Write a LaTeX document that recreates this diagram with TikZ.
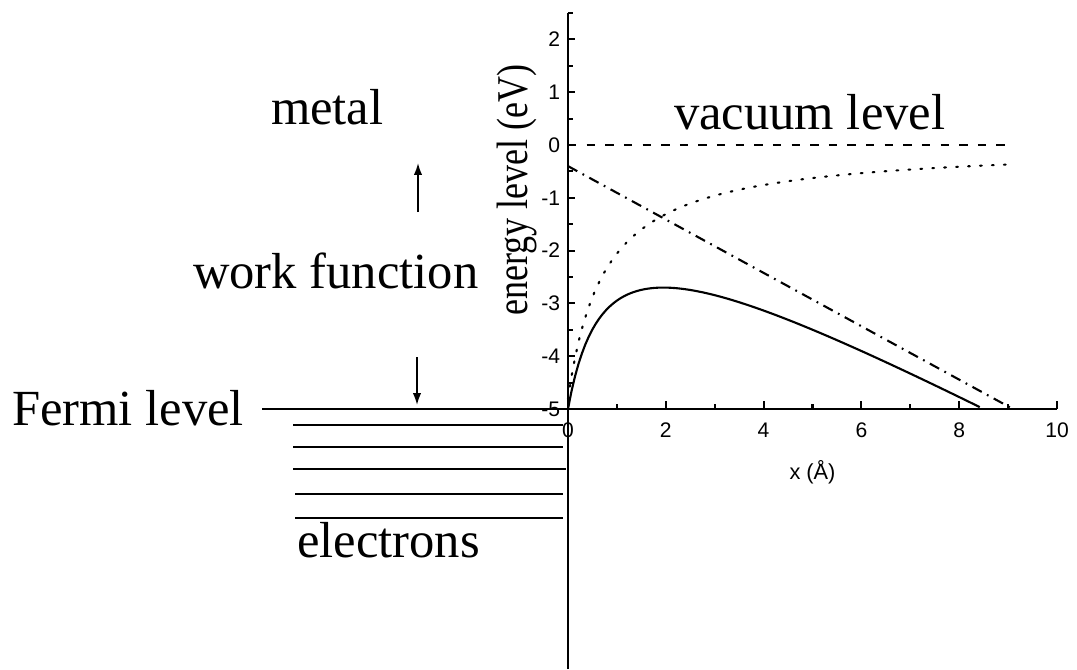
\documentclass[tikz,border=0pt]{standalone}
\usepackage{fontspec}
\usepackage{graphicx}
\setmainfont{Liberation Serif}
\newfontfamily\axisfont{Liberation Sans}
\usetikzlibrary{arrows.meta}
\begin{document}
\begin{tikzpicture}[line width=0.6pt,
  bigtext/.style={font=\fontsize{14.4}{16}\selectfont, inner sep=0pt, anchor=base west},
  ticklab/.style={font=\axisfont\fontsize{6}{7}\selectfont, inner sep=0pt},
  wfarrow/.style={-{Latex[length=3.4pt,width=2.4pt]}, line width=0.5pt}]
\useasboundingbox (0,0) rectangle (10.77,6.69);
% metal side
\node[bigtext] (metal) at (2.70,5.45) {metal};
\node[bigtext] (wf) at (1.92,3.81) {work function};
\node[bigtext] (fermi) at (0.11,2.44) {Fermi level};
\node[bigtext] (elec) at (2.96,1.12) {electrons};
\node[bigtext] (vac) at (6.73,5.40) {vacuum level};
\coordinate (wfup) at (4.18,4.57);
\coordinate (wfuptip) at (4.18,5.06);
\coordinate (wfdown) at (4.17,3.12);
\coordinate (wfdowntip) at (4.17,2.64);
\draw[wfarrow] (wfup) -- (wfuptip);
\draw[wfarrow] (wfdown) -- (wfdowntip);
\draw (2.62,2.60) -- (5.68,2.60);
\foreach \y/\xa/\xb in {2.44/2.93/5.63,2.22/2.93/5.63,2.00/2.93/5.66,1.75/2.95/5.63,1.51/2.95/5.63}
  \draw (\xa,\y) -- (\xb,\y);
% surface / y axis
\draw (5.68,0) -- (5.68,6.56);
\node[rotate=90, anchor=base west, inner sep=0pt, font=\fontsize{12.5}{14}\selectfont] (ylab) at (5.27,3.52) {\scalebox{0.82}[1]{energy level (eV)}};
% potential plot
\begin{scope}[xshift=5.68cm, yshift=5.24cm, x=0.489cm, y=0.528cm]
  \draw (0,-5) -- (10,-5);
  \foreach \x in {0,2,...,10} {
    \draw (\x,-5) -- ++(0,0.08cm);
    \node[ticklab] (xt\x) at (\x,-5.4) {\x};
  }
  \foreach \x in {1,3,...,9}
    \draw (\x,-5) -- ++(0,0.05cm);
  \foreach \y in {-5,...,2} {
    \draw (0,\y) -- ++(0.07cm,0);
    \node[ticklab, anchor=east] (yt\y) at (-0.14,\y) {\y};
  }
  \foreach \y in {-4.5,-3.5,...,2.5}
    \draw (0,\y) -- ++(0.045cm,0);
  \node[ticklab, font=\axisfont\fontsize{6.2}{7}\selectfont] (xlab) at (5,-6.2) {x (Å)};
  \draw[dash pattern=on 2.4pt off 2.9pt] (0,0) -- (9.1,0);
  \draw[dash pattern=on 0.5pt off 2.9pt, line cap=round] plot[domain=0:9.1, samples=120] (\x,{-3.6/(\x+0.75)});
  \draw[dash pattern=on 3pt off 1.7pt on 0.5pt off 1.7pt] (0,-0.4) -- (9.1,-5);
  \draw plot[domain=0:8.42, samples=120] (\x,{-3.855/(\x+0.827)-0.337-0.5*\x});
\end{scope}
\end{tikzpicture}
\end{document}
